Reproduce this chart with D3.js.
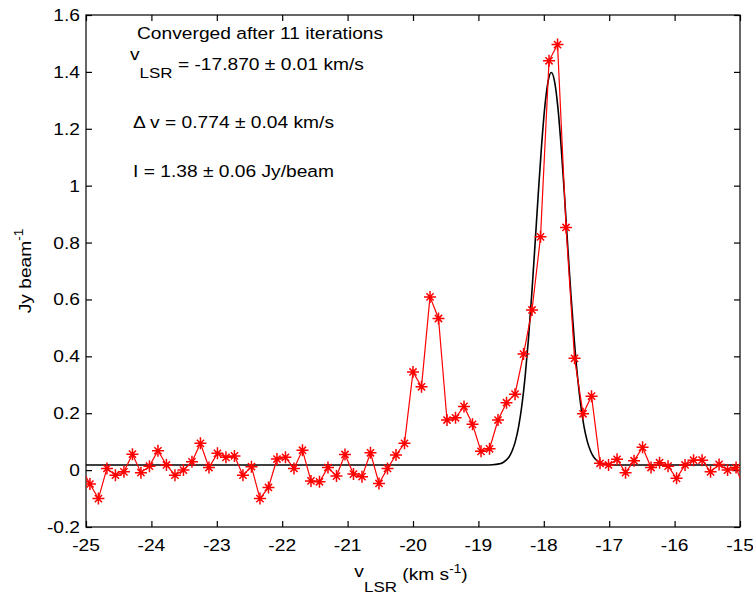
<!DOCTYPE html>
<html><head><meta charset="utf-8">
<script src="https://cdn.jsdelivr.net/npm/d3@7/dist/d3.min.js"></script>
<style>html,body{margin:0;padding:0;background:#fff;}svg{display:block;}</style>
</head><body>
<script>
// ---- data ----
const velocity = [-25.07,-24.94,-24.81,-24.68,-24.55,-24.42,-24.29,-24.16,-24.03,-23.90,-23.77,-23.64,-23.51,-23.38,-23.25,-23.12,-22.99,-22.86,-22.73,-22.60,-22.47,-22.34,-22.21,-22.08,-21.95,-21.82,-21.69,-21.56,-21.43,-21.30,-21.17,-21.04,-20.91,-20.78,-20.65,-20.52,-20.39,-20.26,-20.13,-20.00,-19.87,-19.74,-19.61,-19.48,-19.35,-19.22,-19.09,-18.96,-18.83,-18.70,-18.57,-18.44,-18.31,-18.18,-18.05,-17.92,-17.79,-17.66,-17.53,-17.40,-17.27,-17.14,-17.01,-16.88,-16.75,-16.62,-16.49,-16.36,-16.23,-16.10,-15.97,-15.84,-15.71,-15.58,-15.45,-15.32,-15.19,-15.06,-14.93];
const flux = [0.007,-0.049,-0.100,0.006,-0.018,-0.006,0.056,-0.009,0.014,0.068,0.018,-0.018,0.000,0.029,0.094,0.009,0.059,0.045,0.050,-0.018,0.012,-0.100,-0.061,0.039,0.045,0.006,0.070,-0.038,-0.041,0.009,-0.021,0.055,-0.014,-0.023,0.061,-0.047,0.006,0.053,0.094,0.345,0.293,0.609,0.533,0.176,0.184,0.224,0.161,0.066,0.075,0.176,0.237,0.267,0.408,0.563,0.820,1.439,1.496,0.853,0.393,0.198,0.260,0.024,0.018,0.038,-0.009,0.033,0.080,0.009,0.026,0.014,-0.029,0.018,0.035,0.035,-0.006,0.020,0.000,0.009,-0.071];
const fitVelocity = [-25,-18.885,-18.785,-18.685,-18.635,-18.585,-18.535,-18.485,-18.435,-18.385,-18.335,-18.285,-18.235,-18.185,-18.135,-18.085,-18.035,-17.985,-17.935,-17.885,-17.835,-17.785,-17.735,-17.685,-17.635,-17.585,-17.535,-17.485,-17.435,-17.385,-17.335,-17.285,-17.235,-17.185,-17.135,-17.085,-16.985,-16.885,-15];
const fitFlux = [0.018,0.018,0.019,0.022,0.025,0.033,0.045,0.067,0.101,0.153,0.228,0.330,0.460,0.616,0.790,0.970,1.138,1.276,1.366,1.398,1.366,1.276,1.138,0.970,0.790,0.616,0.460,0.330,0.228,0.153,0.101,0.067,0.045,0.033,0.025,0.022,0.019,0.018,0.018];
const xTicks = [-25,-24,-23,-22,-21,-20,-19,-18,-17,-16,-15];
const xTickLabels = ["-25","-24","-23","-22","-21","-20","-19","-18","-17","-16","-15"];
const yTicks = [-0.2,0,0.2,0.4,0.6,0.8,1,1.2,1.4,1.6];
const yTickLabels = ["-0.2","0","0.2","0.4","0.6","0.8","1","1.2","1.4","1.6"];

// ---- layout ----
const W = 753, H = 597;
const L = 86, R = 740, T = 15, B = 527;
const SX = 1.13; // horizontal glyph stretch of the reference text
const FONT = "'Liberation Sans', Arial, sans-serif";

const svg = d3.select("body").append("svg").attr("width", W).attr("height", H);
const x = d3.scaleLinear().domain([-25, -15]).range([L, R]);
const y = d3.scaleLinear().domain([-0.2, 1.6]).range([B, T]);

function label(x0, y0, anchor, size, rot) {
  const g = svg.append("g").attr("transform",
    `translate(${x0},${y0})` + (rot ? ` rotate(${rot})` : "") + ` scale(${SX},1)`);
  return g.append("text").attr("text-anchor", anchor)
    .attr("font-family", FONT).attr("font-size", size).attr("fill", "#000");
}

// clip
svg.append("clipPath").attr("id", "plotclip").append("rect")
  .attr("x", L).attr("y", T).attr("width", R - L).attr("height", B - T);

// axes (ticks inward on all four sides)
const ax = [
  [d3.axisBottom(x).tickValues(xTicks), `translate(0,${B})`],
  [d3.axisTop(x).tickValues(xTicks), `translate(0,${T})`],
  [d3.axisLeft(y).tickValues(yTicks), `translate(${L},0)`],
  [d3.axisRight(y).tickValues(yTicks), `translate(${R},0)`]
];
ax.forEach(([a, tr]) => {
  const g = svg.append("g").attr("transform", tr)
    .call(a.tickSize(-6).tickFormat(""));
  g.select(".domain").remove();
  g.selectAll("line").attr("stroke", "#000").attr("stroke-width", 1.2);
});
svg.append("rect").attr("x", L).attr("y", T).attr("width", R - L).attr("height", B - T)
  .attr("fill", "none").attr("stroke", "#000").attr("stroke-width", 1.2);

// tick labels
xTicks.forEach((v, i) => label(x(v), 551, "middle", 17).text(xTickLabels[i]));
yTicks.forEach((v, i) => label(80, y(v) + 6, "end", 17).text(yTickLabels[i]));

// fit curve
const plot = svg.append("g").attr("clip-path", "url(#plotclip)");
const fitData = fitVelocity.map((v, i) => [v, fitFlux[i]]);
plot.append("path").datum(fitData)
  .attr("d", d3.line().x(d => x(d[0])).y(d => y(d[1])).curve(d3.curveMonotoneX))
  .attr("fill", "none").attr("stroke", "#000").attr("stroke-width", 1.6);

// data
const data = velocity.map((v, i) => [v, flux[i]]);
plot.append("path").datum(data)
  .attr("d", d3.line().x(d => x(d[0])).y(d => y(d[1])))
  .attr("fill", "none").attr("stroke", "#ff0000").attr("stroke-width", 1.2);
const r = 6, q = 3.6;
plot.selectAll("path.star").data(data.filter(d => d[0] >= -25 && d[0] <= -15))
  .enter().append("path").attr("class", "star")
  .attr("transform", d => `translate(${x(d[0])},${y(d[1])})`)
  .attr("d", `M${-r},0H${r}M0,${-r}V${r}M${-q},${-q}L${q},${q}M${-q},${q}L${q},${-q}`)
  .attr("fill", "none").attr("stroke", "#ff0000").attr("stroke-width", 1.5);

// annotations
label(137, 39, "start", 17).text("Converged after 11 iterations");
{
  const t = label(130, 70, "start", 17);
  t.append("tspan").attr("dy", -10).text("v");
  t.append("tspan").attr("dy", 18).attr("font-size", 15).text("LSR");
  t.append("tspan").attr("dy", -8).text(" = -17.870 \u00B1 0.01 km/s");
}
label(133, 128, "start", 17).text("\u0394 v = 0.774 \u00B1 0.04 km/s");
label(133, 177, "start", 17).text("I = 1.38 \u00B1 0.06 Jy/beam");

// axis titles
{
  const t = label(411, 580, "middle", 17);
  t.append("tspan").attr("dy", -3).text("v");
  t.append("tspan").attr("dy", 15).attr("font-size", 15).text("LSR");
  t.append("tspan").attr("dy", -12).text(" (km s");
  t.append("tspan").attr("dy", -7).attr("font-size", 12).text("-1");
  t.append("tspan").attr("dy", 7).text(")");
}
{
  const t = label(31, 271, "middle", 17, -90);
  t.append("tspan").text("Jy beam");
  t.append("tspan").attr("dy", -8).attr("font-size", 12).text("-1");
}
</script>
</body></html>
